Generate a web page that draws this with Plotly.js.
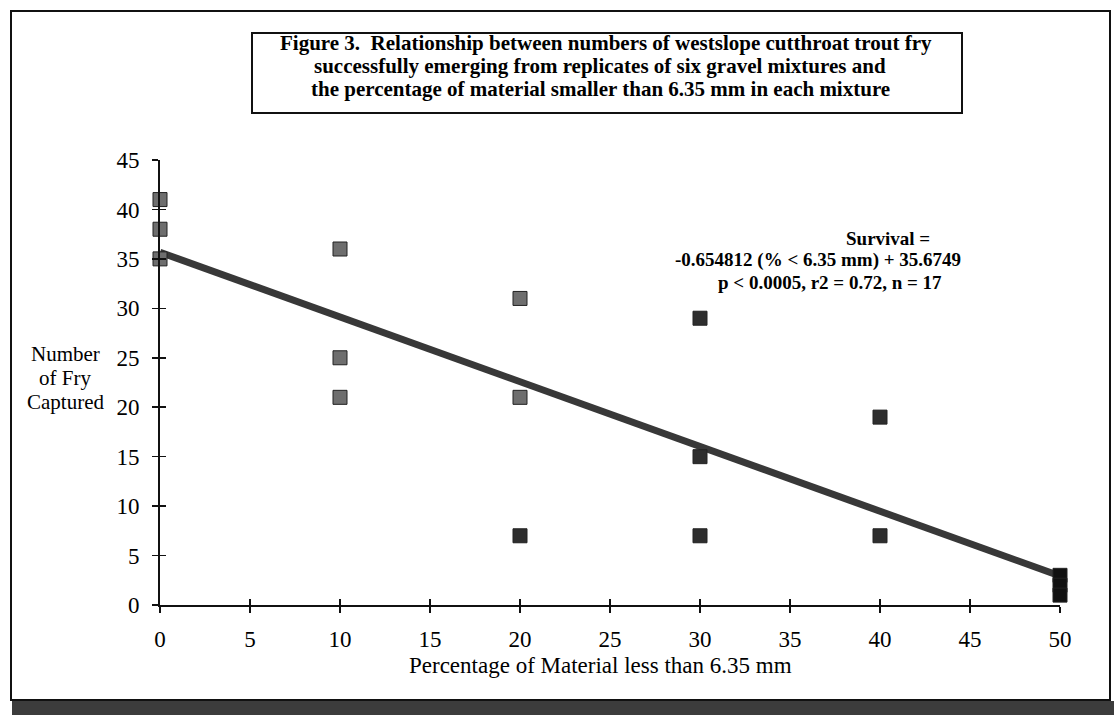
<!DOCTYPE html>
<html>
<head>
<meta charset="utf-8">
<script src="https://cdn.plot.ly/plotly-3.0.1.min.js"></script>
<style>html,body{margin:0;padding:0;background:#fff;}#chart{width:1114px;height:715px;}</style>
</head>
<body>
<div id="chart"></div>
<script>
// ---- data ----
const pctFines = [0, 0, 0, 10, 10, 10, 20, 20, 20, 30, 30, 30, 40, 40, 50, 50, 50];
const fryCaptured = [41, 38, 35, 36, 25, 21, 31, 21, 7, 29, 15, 7, 19, 7, 3, 2, 1];
const fitSlope = -0.654812;
const fitIntercept = 35.6749;
const fitX = [0, 50];
const xTicks = [0, 5, 10, 15, 20, 25, 30, 35, 40, 45, 50];
const yTicks = [0, 5, 10, 15, 20, 25, 30, 35, 40, 45];
const titleLines = [
  'Figure 3.  Relationship between numbers of westslope cutthroat trout fry',
  'successfully emerging from replicates of six gravel mixtures and',
  'the percentage of material smaller than 6.35 mm in each mixture'
];
const eqLines = ['Survival =', '-0.654812 (% < 6.35 mm) + 35.6749', 'p < 0.0005, r2 = 0.72, n = 17'];
const xTitle = 'Percentage of Material less than 6.35 mm';
const yTitleLines = ['Number', 'of Fry', 'Captured'];

// ---- styles ----
const FONT = 'Liberation Serif, Times New Roman, serif';
const markerColors = pctFines.map((x, i) => (x <= 10 || (x === 20 && fryCaptured[i] > 10)) ? '#6e6e6e' : (x === 50 ? '#111' : '#2e2e2e'));

const fitY = fitX.map(x => fitSlope * x + fitIntercept);

const traces = [
  {x: fitX, y: fitY, mode: 'lines', line: {color: '#383838', width: 7}, hoverinfo: 'skip', cliponaxis: false},
  {x: pctFines, y: fryCaptured, mode: 'markers', cliponaxis: false,
   marker: {symbol: 'square', size: 14, color: markerColors, line: {color: '#222', width: 1}}},
  // overlay axes for the inward half of the crossing ticks
  {x: [0], y: [0], xaxis: 'x2', yaxis: 'y2', mode: 'markers', marker: {opacity: 0}, hoverinfo: 'skip'}
];

// pixel helpers (plot area: 160..1060 x, 160..605 y)
const px = v => (v - 160) / 900;
const py = v => (605 - v) / 445;

const ann = [];
const titleY = [43, 66, 89];
const titleX = [606, 600, 600];
titleLines.forEach((t, i) => ann.push({xref: 'paper', yref: 'paper', x: px(titleX[i]), y: py(titleY[i]), text: t, showarrow: false,
  xanchor: 'center', yanchor: 'middle', font: {family: FONT, size: 21, color: '#000', weight: 'bold'}}));
const eqX = [888, 818, 830];
const eqY = [238, 260, 282];
eqLines.forEach((t, i) => ann.push({xref: 'paper', yref: 'paper', x: px(eqX[i]), y: py(eqY[i]), text: t, showarrow: false,
  xanchor: 'center', yanchor: 'middle', font: {family: FONT, size: 19, color: '#000', weight: 'bold'}}));
const ytY = [354, 378, 402];
yTitleLines.forEach((t, i) => ann.push({xref: 'paper', yref: 'paper', x: px(65), y: py(ytY[i]), text: t, showarrow: false,
  xanchor: 'center', yanchor: 'middle', font: {family: FONT, size: 21, color: '#000'}}));
ann.push({xref: 'paper', yref: 'paper', x: px(600), y: py(665), text: xTitle, showarrow: false,
  xanchor: 'center', yanchor: 'middle', font: {family: FONT, size: 23, color: '#000'}});

const shapes = [
  // bottom shadow
  {type: 'rect', xref: 'paper', yref: 'paper', x0: px(12), x1: px(1114), y0: py(715), y1: py(701), fillcolor: '#3c3c3c', line: {width: 0}, layer: 'below'},
  // outer frame
  {type: 'rect', xref: 'paper', yref: 'paper', x0: px(11), x1: px(1110), y0: py(700), y1: py(11), line: {color: '#111', width: 2}, layer: 'below'},
  // title box
  {type: 'rect', xref: 'paper', yref: 'paper', x0: px(252), x1: px(962), y0: py(113), y1: py(33), line: {color: '#111', width: 2}}
];

const axisCommon = {showgrid: false, zeroline: false, showline: true, linecolor: '#111', linewidth: 2,
  tickcolor: '#111', tickwidth: 1.5, ticklen: 6, ticks: 'outside', tickfont: {family: FONT, size: 23, color: '#000'}};

const layout = {
  width: 1114, height: 715,
  margin: {l: 160, r: 54, t: 160, b: 110},
  paper_bgcolor: '#fff', plot_bgcolor: 'rgba(0,0,0,0)',
  showlegend: false,
  xaxis: Object.assign({}, axisCommon, {range: [0, 50], tickvals: xTicks, ticktext: xTicks.map(String), fixedrange: true, ticklabelstandoff: 6}),
  yaxis: Object.assign({}, axisCommon, {range: [0, 45], tickvals: yTicks, ticktext: yTicks.map(String), fixedrange: true, ticklabelstandoff: 8}),
  xaxis2: {overlaying: 'x', range: [0, 50], tickvals: xTicks, ticks: 'inside', ticklen: 6, tickwidth: 1.5, tickcolor: '#111',
    showticklabels: false, showgrid: false, zeroline: false, showline: false, side: 'bottom', anchor: 'y2'},
  yaxis2: {overlaying: 'y', range: [0, 45], tickvals: yTicks, ticks: 'inside', ticklen: 6, tickwidth: 1.5, tickcolor: '#111',
    showticklabels: false, showgrid: false, zeroline: false, showline: false, side: 'left', anchor: 'x2'},
  annotations: ann,
  shapes: shapes
};

Plotly.newPlot('chart', traces, layout, {displayModeBar: false, staticPlot: true});
</script>
</body>
</html>
